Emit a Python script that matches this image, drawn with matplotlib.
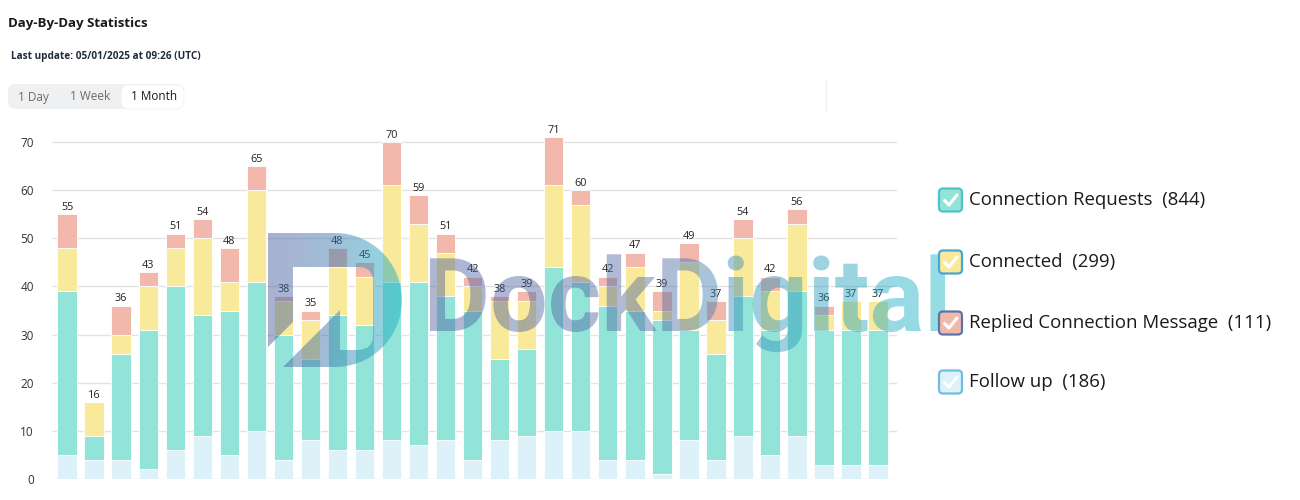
import matplotlib
matplotlib.use("Agg")
import matplotlib.pyplot as plt
import numpy as np
from matplotlib.colors import LinearSegmentedColormap
from matplotlib.font_manager import FontProperties
from matplotlib.patches import FancyBboxPatch, PathPatch
from matplotlib.path import Path
from matplotlib.textpath import TextPath
from matplotlib.transforms import Affine2D

plt.rcParams["font.family"] = ["Open Sans", "DejaVu Sans"]

# daily stacks, bottom to top
follow_up = [5, 4, 4, 2, 6, 9, 5, 10, 4, 8, 6, 6, 8, 7, 8, 4, 8, 9, 10, 10, 4, 4, 1, 8, 4, 9, 5, 9, 3, 3, 3]
connection_requests = [34, 5, 22, 29, 34, 25, 30, 31, 26, 17, 28, 26, 33, 34, 30, 31, 17, 18, 34, 31, 32, 31, 32, 23, 22, 29, 26, 30, 28, 28, 28]
connected = [9, 7, 4, 9, 8, 16, 6, 19, 7, 8, 10, 10, 20, 12, 9, 5, 12, 10, 17, 16, 4, 9, 2, 14, 7, 12, 8, 14, 3, 6, 6]
replied = [7, 0, 6, 3, 3, 4, 7, 5, 1, 2, 4, 3, 9, 6, 4, 2, 1, 2, 10, 3, 2, 3, 4, 4, 4, 4, 3, 3, 2, 0, 0]

series_names = ["Connection Requests", "Connected", "Replied Connection Message", "Follow up"]
y_ticks = [0, 10, 20, 30, 40, 50, 60, 70]

C_FOLLOW = "#dcf1f8"
C_REQ = "#93e4d8"
C_CONN = "#f9e99a"
C_REPL = "#f2b8ac"

W, H = 1300, 500
fig = plt.figure(figsize=(W / 100, H / 100), dpi=100)
fig.patch.set_facecolor("white")

# ---- chart ----
ax = fig.add_axes([52 / W, 21 / H, 845 / W, (479 - 122.8) / H])
x = np.arange(len(follow_up))
fu = np.array(follow_up)
cr = np.array(connection_requests)
cn = np.array(connected)
rp = np.array(replied)

bw = 0.72
kw = dict(width=bw, edgecolor="white", linewidth=0.6, zorder=3)
ax.bar(x, fu, color=C_FOLLOW, **kw)
ax.bar(x, cr, bottom=fu, color=C_REQ, **kw)
ax.bar(x, cn, bottom=fu + cr, color=C_CONN, **kw)
ax.bar(x, rp, bottom=fu + cr + cn, color=C_REPL, **kw)

totals = fu + cr + cn + rp
for xi, t in zip(x, totals):
    ax.annotate(str(t), (xi, t), xytext=(0, 1), textcoords="offset points",
                ha="center", va="bottom", fontsize=7.8, color="#222222", zorder=4)

ax.set_xlim(-0.56, 30.7)
ax.set_ylim(0, 74)
ax.set_yticks(y_ticks)
ax.set_xticks([])
ax.tick_params(axis="y", length=0, pad=13, labelsize=8.5, labelcolor="#333333")
for s in ax.spines.values():
    s.set_visible(False)
ax.grid(axis="y", color="#e3e3e3", linewidth=1, zorder=0)
ax.set_axisbelow(True)

# ---- page overlay in pixel coordinates ----
ov = fig.add_axes([0, 0, 1, 1], zorder=5)
ov.axis("off")

ov.text(8, 24, "Day-By-Day Statistics", fontsize=9.5, fontweight="bold",
        color="#1a1a1a", ha="left", va="center")
ov.text(11, 56, "Last update: 05/01/2025 at 09:26 (UTC)", fontsize=7.2,
        fontweight="bold", color="#1f2a3a", ha="left", va="center")

ov.add_patch(FancyBboxPatch((8, 84), 176, 25, boxstyle="round,pad=0,rounding_size=8",
                            facecolor="#eff0f2", edgecolor="none"))
ov.add_patch(FancyBboxPatch((121, 85), 63, 24, boxstyle="round,pad=0,rounding_size=8",
                            facecolor="white", edgecolor="#f2f2f2", linewidth=0.6))
ov.text(18, 97, "1 Day", fontsize=8.5, color="#6b6b6b", ha="left", va="center")
ov.text(70, 97, "1 Week", fontsize=8.5, color="#6b6b6b", ha="left", va="center")
ov.text(131, 97, "1 Month", fontsize=8.5, color="#1a1a1a", ha="left", va="center")
ov.plot([826, 826], [80, 112], color="#eeeeee", linewidth=0.8)

# ---- watermark: logo ----
def arc_pts(cx, cy, r, a0, a1, n=40):
    a = np.radians(np.linspace(a0, a1, n))
    return list(zip(cx + r * np.cos(a), cy + r * np.sin(a)))


stem = [(268, 233), (335, 233), (335, 267), (293, 267), (293, 322), (268, 347), (268, 233)]
ring = [(335, 233)] + arc_pts(335, 300, 67, -90, 90) + [(283, 367), (340, 310), (340, 350), (360, 350)]
ring += arc_pts(358, 336, 15, 60, 0, 8)[1:] + [(373, 280)] + arc_pts(360, 280, 13, 0, -90, 8)[1:] + [(335, 267), (335, 233)]

verts, codes = [], []
for poly in (stem, ring):
    verts += poly
    codes += [Path.MOVETO] + [Path.LINETO] * (len(poly) - 2) + [Path.CLOSEPOLY]
logo_path = Path(verts, codes)

grad = np.linspace(0, 1, 256).reshape(1, -1)

logo_cmap = LinearSegmentedColormap.from_list("logo", ["#4a5c9c", "#3b79ad", "#14b3c4"])
logo_patch = PathPatch(logo_path, facecolor="none", edgecolor="none", transform=ov.transData)
ov.add_patch(logo_patch)
im = ov.imshow(grad, extent=(268, 402, 370, 230), cmap=logo_cmap, alpha=0.48,
               aspect="auto", interpolation="bilinear", zorder=2)
im.set_clip_path(logo_patch)

# ---- watermark: wordmark ----
tp = TextPath((0, 0), "DockDigital", size=100,
              prop=FontProperties(family="Roboto", weight="bold"))
ext = tp.get_extents()
sc = 515 / ext.width
word_path = Affine2D().translate(-ext.x0, 0).scale(sc, -sc).translate(430, 331).transform_path(tp)
word_patch = PathPatch(word_path, facecolor="none", edgecolor="none", transform=ov.transData)
ov.add_patch(word_patch)
word_cmap = LinearSegmentedColormap.from_list(
    "word", [(0, "#4a5c9c"), (0.45, "#4f68a3"), (0.62, "#2f8fb8"), (1, "#12b4c6")])
im2 = ov.imshow(grad, extent=(430, 945, 370, 220), cmap=word_cmap, alpha=0.45,
                aspect="auto", interpolation="bilinear", zorder=2)
im2.set_clip_path(word_patch)

# ---- legend with check boxes ----
legend_rows = [
    (200, C_REQ, "#4cc4c8", series_names[0], cr.sum()),
    (262, C_CONN, "#46a6d6", series_names[1], cn.sum()),
    (323, C_REPL, "#5877a6", series_names[2], rp.sum()),
    (382, C_FOLLOW, "#6fbde3", series_names[3], fu.sum()),
]
for cy, fill, edge, name, total in legend_rows:
    ov.add_patch(FancyBboxPatch((939, cy - 11.5), 23, 23, boxstyle="round,pad=0,rounding_size=4",
                                facecolor=fill, edgecolor=edge, linewidth=1.6, zorder=3))
    ov.plot([944.5, 949, 957], [cy + 0.5, cy + 5, cy - 5], color="white",
            linewidth=2.2, solid_capstyle="round", solid_joinstyle="round", zorder=4)
    ov.text(969, cy, f"{name}  ({total})", fontsize=13.4, color="#1a1a1a",
            ha="left", va="center", zorder=4)

ov.set_xlim(0, W)
ov.set_ylim(H, 0)

fig.savefig("out.png", dpi=100)
